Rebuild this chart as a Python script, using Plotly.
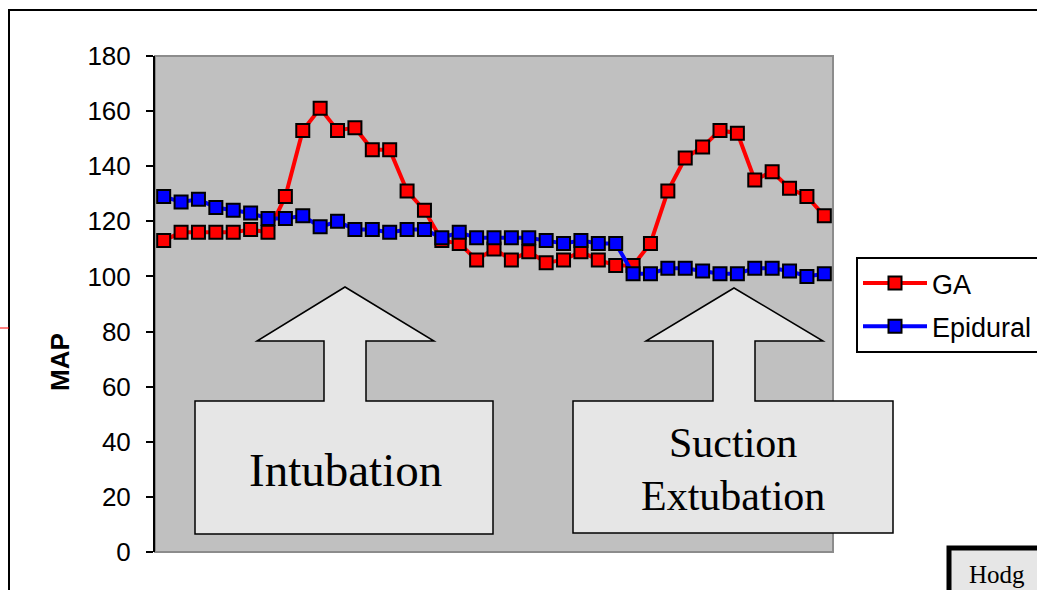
import plotly.graph_objects as go

# Mean arterial pressure readings, one per sample interval
samples = list(range(1, 40))
ga_map = [113, 116, 116, 116, 116, 117, 116, 129, 153, 161, 153, 154, 146, 146, 131,
          124, 113, 112, 106, 110, 106, 109, 105, 106, 109, 106, 104, 104, 112, 131,
          143, 147, 153, 152, 135, 138, 132, 129, 122]
epidural_map = [129, 127, 128, 125, 124, 123, 121, 121, 122, 118, 120, 117, 117, 116, 117,
                117, 114, 116, 114, 114, 114, 114, 113, 112, 113, 112, 112, 101, 101, 103,
                103, 102, 101, 101, 103, 103, 102, 100, 101]
y_ticks = [0, 20, 40, 60, 80, 100, 120, 140, 160, 180]

W, H = 1037, 590
L, R, T, B = 155, 833, 56, 552  # plot area edges in pixels


def px(x):
    return (x - L) / (R - L)


def py(y):
    return (B - y) / (B - T)


def callout_path(box, stem, head_y, head_x, tip):
    """Up-arrow callout: rectangle with an arrow rising from its top edge."""
    x0, y0, x1, y1 = box
    s0, s1 = stem
    h0, h1 = head_x
    pts = [(x0, y0), (s0, y0), (s0, head_y), (h0, head_y), tip,
           (h1, head_y), (s1, head_y), (s1, y0), (x1, y0), (x1, y1), (x0, y1)]
    return "M " + " L ".join(f"{px(a):.5f},{py(b):.5f}" for a, b in pts) + " Z"


fig = go.Figure()

fig.add_trace(go.Scatter(
    x=samples, y=ga_map, name="GA", mode="lines+markers", legendgroup="ga",
    line=dict(color="#FF0000", width=4),
    marker=dict(symbol="square", size=13, color="#FF0000",
                line=dict(color="black", width=2)),
))
fig.add_trace(go.Scatter(
    x=samples, y=epidural_map, name="Epidural", mode="lines+markers", legendgroup="epi",
    line=dict(color="#0000FF", width=4),
    marker=dict(symbol="square", size=13, color="#0000FF",
                line=dict(color="black", width=2)),
))

shapes = [
    # plot area frame
    dict(type="rect", xref="paper", yref="paper", x0=0, y0=0, x1=1, y1=1,
         line=dict(color="#8C8C8C", width=2), layer="below"),
    # outer slide frame
    dict(type="rect", xref="paper", yref="paper", x0=px(9), y0=py(10), x1=px(1100), y1=py(650),
         line=dict(color="black", width=2)),
    # stray red rule at left edge
    dict(type="line", xref="paper", yref="paper", x0=px(0), y0=py(328), x1=px(9), y1=py(328),
         line=dict(color="#FF0000", width=1)),
    # Intubation callout
    dict(type="path", xref="paper", yref="paper",
         path=callout_path((195, 401, 493, 534), (324, 366), 341, (257, 434), (345, 287)),
         fillcolor="#E6E6E6", line=dict(color="black", width=1.5), layer="above"),
    # Suction / Extubation callout
    dict(type="path", xref="paper", yref="paper",
         path=callout_path((573, 401, 893, 533), (713, 755), 341, (646, 823), (734, 288)),
         fillcolor="#E6E6E6", line=dict(color="black", width=1.5), layer="above"),
    # citation box at lower right
    dict(type="rect", xref="paper", yref="paper", x0=px(949), y0=py(548), x1=px(1100), y1=py(640),
         fillcolor="#E6E6E6", line=dict(color="black", width=5)),
]

serif = "Liberation Serif, Times New Roman, serif"
sans = "Liberation Sans, Arial, sans-serif"
annotations = [
    dict(text="<b>MAP</b>", xref="paper", yref="paper", x=px(60), y=py(362),
         textangle=-90, showarrow=False, font=dict(family=sans, size=26, color="black"),
         xanchor="center", yanchor="middle"),
    dict(text="Intubation", xref="paper", yref="paper", x=px(345), y=py(470),
         showarrow=False, font=dict(family=serif, size=47, color="black"),
         xanchor="center", yanchor="middle"),
    dict(text="Suction", xref="paper", yref="paper", x=px(733), y=py(443),
         showarrow=False, font=dict(family=serif, size=42, color="black"),
         xanchor="center", yanchor="middle"),
    dict(text="Extubation", xref="paper", yref="paper", x=px(733), y=py(496),
         showarrow=False, font=dict(family=serif, size=42, color="black"),
         xanchor="center", yanchor="middle"),
    dict(text="Hodg", xref="paper", yref="paper", x=px(967), y=py(574),
         showarrow=False, font=dict(family=serif, size=25, color="black"),
         xanchor="left", yanchor="middle"),
]

fig.update_layout(
    width=W, height=H,
    margin=dict(l=L, r=W - R, t=T, b=H - B, pad=0, autoexpand=False),
    paper_bgcolor="white",
    plot_bgcolor="#C0C0C0",
    font=dict(family=sans, color="black"),
    showlegend=True,
    legend=dict(
        x=px(856), y=py(257), xanchor="left", yanchor="top",
        bgcolor="white", bordercolor="black", borderwidth=2,
        font=dict(family=sans, size=27, color="black"),
        itemwidth=64, tracegroupgap=5,
    ),
    xaxis=dict(range=[0.5, 39.5], showticklabels=False, ticks="", showgrid=False,
               zeroline=False, showline=False),
    yaxis=dict(
        range=[0, 180], tickvals=y_ticks, ticks="outside", ticklen=7, tickwidth=2,
        tickcolor="black", showline=True, linecolor="black", linewidth=2,
        showgrid=False, zeroline=False,
        tickfont=dict(family=sans, size=26, color="black"),
        ticklabelstandoff=10,
    ),
    shapes=shapes,
    annotations=annotations,
)

fig.write_html("out.html")
